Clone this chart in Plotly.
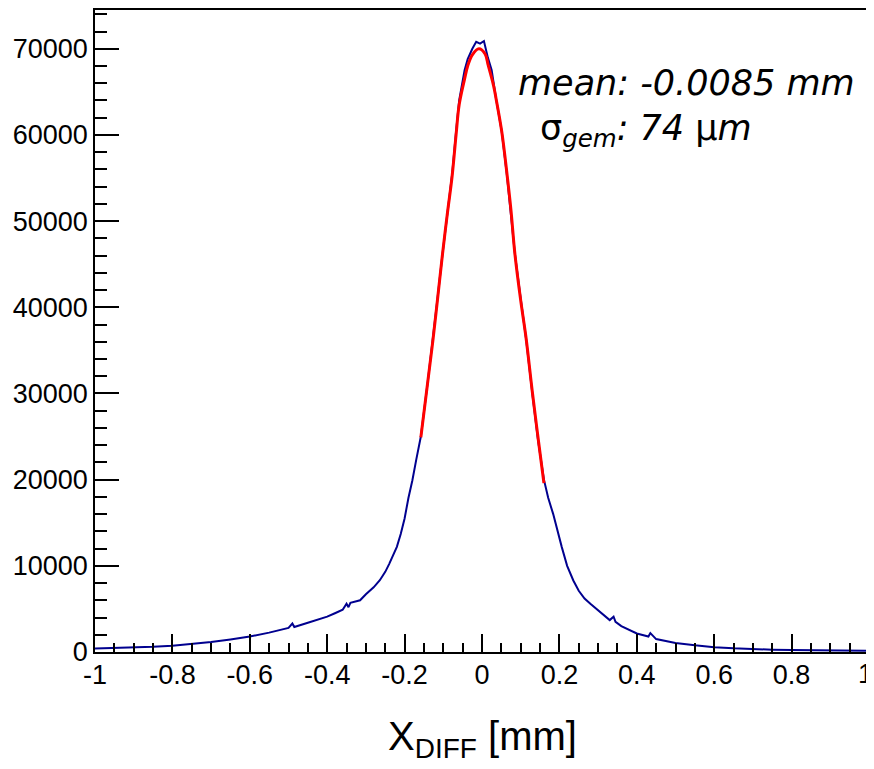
import plotly.graph_objects as go

# histogram of X_DIFF (mm, counts)
hist_x = [-1.0, -0.95, -0.9, -0.85, -0.8, -0.75, -0.7, -0.65, -0.6, -0.55,
          -0.5, -0.49, -0.485, -0.45, -0.4, -0.38, -0.36, -0.35, -0.345, -0.34,
          -0.33, -0.315, -0.3, -0.28, -0.264, -0.25, -0.24, -0.23, -0.22, -0.21,
          -0.2, -0.19, -0.18, -0.17, -0.158, -0.14, -0.127, -0.115, -0.102, -0.09,
          -0.077, -0.067, -0.059, -0.045, -0.037, -0.025, -0.015, -0.005, 0.005, 0.015,
          0.025, 0.036, 0.051, 0.064, 0.075, 0.085, 0.1, 0.114, 0.13, 0.145,
          0.16, 0.171, 0.184, 0.195, 0.206, 0.22, 0.236, 0.25, 0.265, 0.28,
          0.3, 0.315, 0.33, 0.34, 0.345, 0.36, 0.38, 0.4, 0.43, 0.435,
          0.45, 0.5, 0.55, 0.6, 0.65, 0.7, 0.75, 0.8, 0.85, 0.9,
          0.95, 1.0]
hist_y = [400, 450, 520, 600, 730, 900, 1150, 1450, 1800, 2250,
          2800, 3300, 2900, 3400, 4100, 4500, 4900, 5600, 5200, 5700,
          5800, 6000, 6700, 7500, 8330, 9300, 10200, 11200, 12200, 13700,
          15500, 17900, 19900, 22300, 25000, 31400, 36100, 41000, 46200, 50500,
          55500, 60400, 64000, 67500, 68800, 70000, 70800, 70600, 70900, 69000,
          67500, 64300, 60400, 55500, 51000, 46200, 41000, 36300, 30000, 24500,
          20000, 17900, 16000, 14000, 12200, 10000, 8300, 7100, 6200, 5600,
          4800, 4200, 3700, 4100, 3500, 3000, 2550, 2150, 1800, 2200,
          1500, 1050, 780, 560, 430, 330, 270, 220, 190, 170,
          150, 130]

# gaussian fit drawn in red
fit_x = [-0.158, -0.14, -0.126, -0.114, -0.102, -0.09, -0.077, -0.067, -0.059, -0.045,
         -0.037, -0.025, -0.008, 0.008, 0.016, 0.03, 0.036, 0.051, 0.065, 0.075,
         0.085, 0.1, 0.1137, 0.13, 0.145, 0.16]
fit_y = [24900, 31400, 36500, 41300, 46200, 50700, 55300, 60000, 63500, 66500,
         68000, 69300, 70000, 69400, 68100, 65700, 64300, 60400, 55300, 51200,
         46200, 40800, 36500, 30200, 24800, 19600]

x_ticks = [-1, -0.8, -0.6, -0.4, -0.2, 0, 0.2, 0.4, 0.6, 0.8, 1]
x_labels = ["-1", "-0.8", "-0.6", "-0.4", "-0.2", "0", "0.2", "0.4", "0.6", "0.8", "1"]

fig = go.Figure()
fig.add_trace(go.Scatter(x=hist_x, y=hist_y, mode="lines",
                         line=dict(color="#00008f", width=2), showlegend=False))
fig.add_trace(go.Scatter(x=fit_x, y=fit_y, mode="lines",
                         line=dict(color="#ff0000", width=3, shape="spline"),
                         showlegend=False))

font = "Liberation Sans, Arial, sans-serif"
# the page body has an 8px margin, so the figure is a bit smaller than the window
fig.update_layout(
    width=866, height=761,
    margin=dict(l=87, r=5, t=0, b=117),
    plot_bgcolor="white", paper_bgcolor="white",
    font=dict(family=font, color="black", size=27),
)
fig.update_xaxes(range=[-1, 1], tickvals=x_ticks[:-1], ticktext=x_labels[:-1],
                 ticks="inside", ticklen=18, tickwidth=1.5, tickcolor="black",
                 ticklabelstandoff=-2,
                 minor=dict(dtick=0.05, ticks="inside", ticklen=9, tickwidth=1.5, tickcolor="black"),
                 showline=True, linecolor="black", linewidth=1.5, mirror=True,
                 showgrid=False, zeroline=False, tickfont=dict(size=27))
fig.update_yaxes(range=[0, 74500], dtick=10000, tickformat="d",
                 ticks="inside", ticklen=24, tickwidth=1.5, tickcolor="black",
                 minor=dict(dtick=2000, ticks="inside", ticklen=12, tickwidth=1.5, tickcolor="black"),
                 showline=True, linecolor="black", linewidth=1.5, mirror=True,
                 showgrid=False, zeroline=False, tickfont=dict(size=27))

# last x label sits on the frame edge; plotly would drop it as a tick label
fig.add_annotation(text=x_labels[-1], xref="x", yref="paper",
                   x=x_ticks[-1], y=-0.034, xanchor="center", yanchor="middle",
                   xshift=-4, showarrow=False, font=dict(size=27))
fig.add_annotation(text="X<sub>DIFF</sub> [mm]", xref="paper", yref="paper",
                   x=0.5, y=-0.136, xanchor="center", yanchor="middle",
                   showarrow=False, font=dict(size=40))

txt_font = "DejaVu Sans, sans-serif"
fig.add_annotation(text="<i>mean: -0.0085 mm</i>", xref="paper", yref="paper",
                   x=0.544, y=0.886, xanchor="left", yanchor="middle",
                   showarrow=False, font=dict(size=35, family=txt_font))
fig.add_annotation(text="σ<sub><i>gem</i></sub><i>: 74 </i>µ<i>m</i>", xref="paper", yref="paper",
                   x=0.572, y=0.813, xanchor="left", yanchor="middle",
                   showarrow=False, font=dict(size=35, family=txt_font))

fig.write_html("out.html")
